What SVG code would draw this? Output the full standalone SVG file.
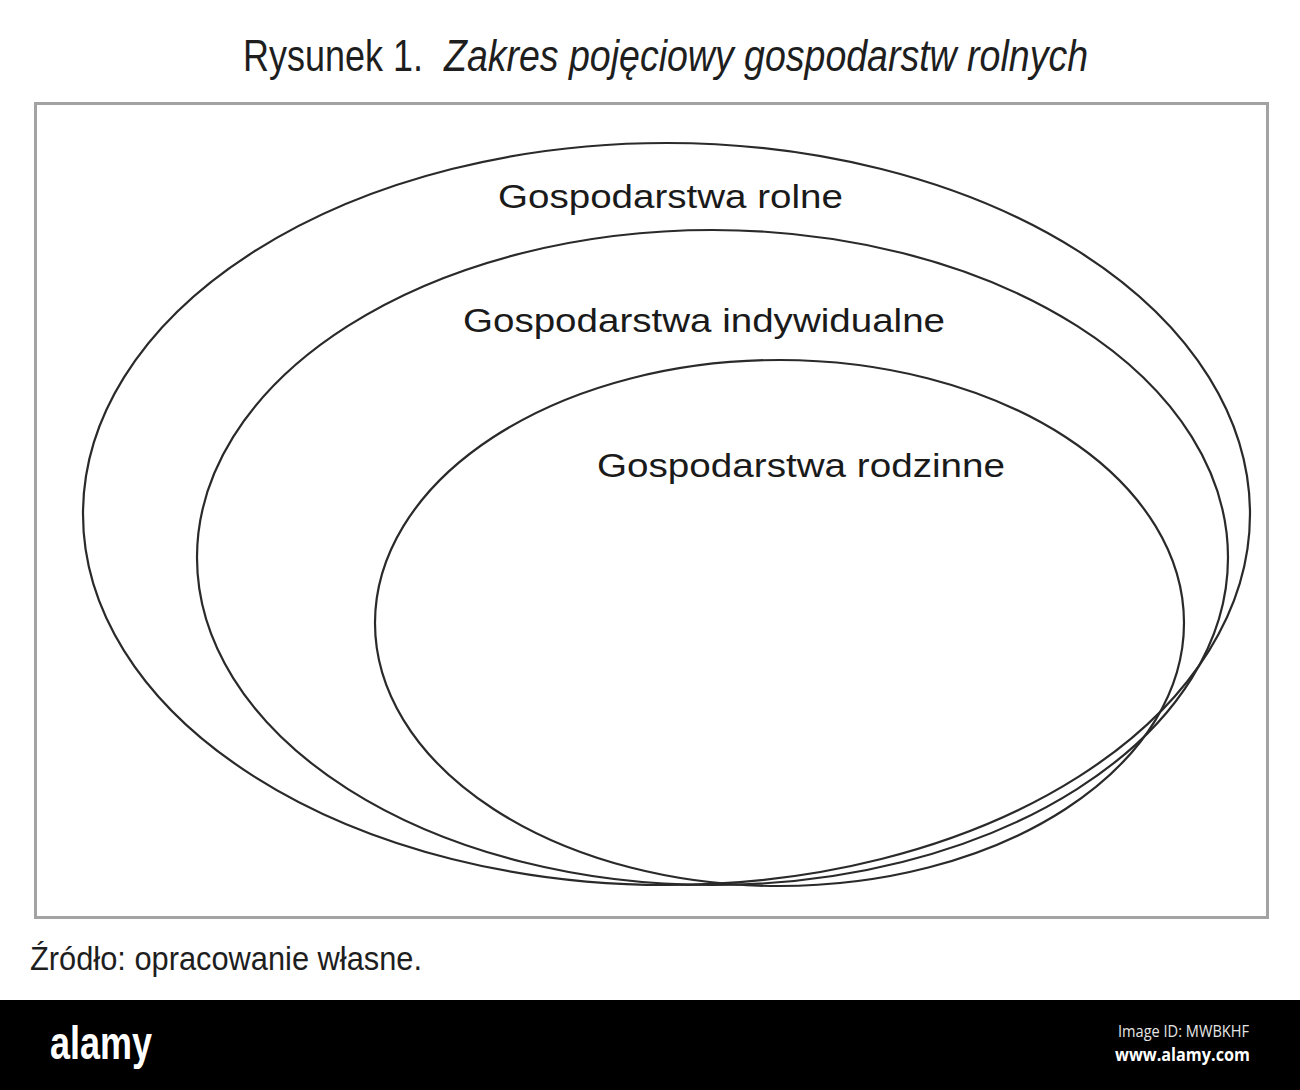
<svg xmlns="http://www.w3.org/2000/svg" width="1300" height="1090" viewBox="0 0 1300 1090">
<style>
.oval{fill:none;stroke:#2a2a2a;stroke-width:2.2}
.lbl{font-family:"Liberation Sans",Arial,sans-serif;font-size:33px;fill:#1a1a1a}
.cap{font-family:"Liberation Sans Narrow","Liberation Sans",Arial,sans-serif;fill:#1e1e1e}
</style>
<rect width="1300" height="1090" fill="#ffffff"/>
<g id="title">
<text class="cap" x="243" y="71" font-size="44" textLength="180" lengthAdjust="spacingAndGlyphs">Rysunek 1.</text>
<text class="cap" x="444" y="71" font-size="44" font-style="italic" textLength="644" lengthAdjust="spacingAndGlyphs">Zakres pojęciowy gospodarstw rolnych</text>
</g>
<g id="frame">
<rect x="35.5" y="103.5" width="1232" height="814" fill="none" stroke="#a3a3a3" stroke-width="3"/>
</g>
<g id="gospodarstwa-rolne">
<ellipse class="oval" cx="666.5" cy="514" rx="583.5" ry="371"/>
<text class="lbl" x="498" y="208" textLength="345" lengthAdjust="spacingAndGlyphs">Gospodarstwa rolne</text>
</g>
<g id="gospodarstwa-indywidualne">
<ellipse class="oval" cx="712.5" cy="557.5" rx="515.5" ry="327.5"/>
<text class="lbl" x="463" y="332" textLength="482" lengthAdjust="spacingAndGlyphs">Gospodarstwa indywidualne</text>
</g>
<g id="gospodarstwa-rodzinne">
<ellipse class="oval" cx="779.5" cy="623" rx="404.5" ry="263"/>
<text class="lbl" x="597" y="477" textLength="408" lengthAdjust="spacingAndGlyphs">Gospodarstwa rodzinne</text>
</g>
<g id="connectors"></g>
<g id="source">
<text class="cap" x="30" y="970" font-size="33" textLength="392" lengthAdjust="spacingAndGlyphs">Źródło: opracowanie własne.</text>
</g>
<g id="watermark-band">
<rect x="0" y="1000" width="1300" height="90" fill="#000000"/>
<text x="50" y="1059" font-family="'Liberation Sans Narrow','Liberation Sans',Arial,sans-serif" font-weight="bold" font-size="46" fill="#ffffff" textLength="102" lengthAdjust="spacingAndGlyphs">alamy</text>
<text x="1118" y="1037" font-family="'Open Sans','Noto Sans',sans-serif" font-size="16" fill="#e6e6e6" textLength="131" lengthAdjust="spacingAndGlyphs">Image ID: MWBKHF</text>
<text x="1115" y="1061" font-family="'Open Sans','Noto Sans',sans-serif" font-weight="bold" font-size="18" fill="#ffffff" textLength="135" lengthAdjust="spacingAndGlyphs">www.alamy.com</text>
</g>
</svg>
